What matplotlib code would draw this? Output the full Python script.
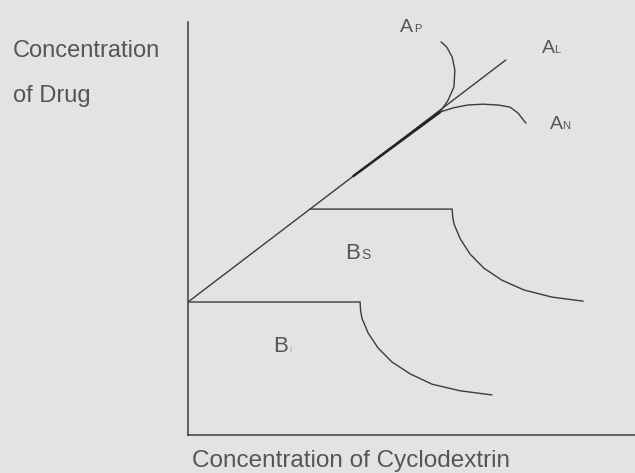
"""Phase-solubility diagram (Higuchi-Connors types A_P, A_L, A_N, B_S, B_I)."""
import matplotlib
matplotlib.use("Agg")
import matplotlib.pyplot as plt

BG = "#e3e3e1"
INK = "#3c3c3c"
TXT = "#555555"

# A_L: straight line from the intrinsic solubility upward
AL_X = [0.0, 7.11]
AL_Y = [3.22, 9.08]
# darker, hand-traced part of the A_L line near the branch point
AL_DARK_X = [3.70, 5.64]
AL_DARK_Y = [6.27, 7.82]

# A_P branch (bends upward)
AP_X = [5.64, 5.82, 5.95, 5.97, 5.91, 5.79, 5.66]
AP_Y = [7.82, 8.11, 8.43, 8.84, 9.15, 9.39, 9.52]

# A_N branch (bends downward)
AN_X = [5.64, 5.93, 6.26, 6.60, 6.94, 7.20, 7.38, 7.56]
AN_Y = [7.82, 7.92, 7.99, 8.01, 7.99, 7.94, 7.80, 7.55]

# B_S: plateau then decline
BS_X = [2.73, 5.91, 5.92, 5.95, 6.09, 6.31, 6.62, 7.02, 7.52, 8.14, 8.84]
BS_Y = [5.47, 5.47, 5.30, 5.11, 4.75, 4.38, 4.04, 3.75, 3.51, 3.34, 3.24]

# B_I: plateau at intrinsic solubility then decline
BI_X = [0.0, 3.85, 3.86, 3.89, 4.03, 4.25, 4.56, 4.97, 5.46, 6.09, 6.80]
BI_Y = [3.22, 3.22, 3.03, 2.83, 2.47, 2.11, 1.77, 1.48, 1.23, 1.07, 0.97]

# curve labels: (main letter, subscript, x, y, x of subscript, main size, sub size)
LABELS = [
    ("A", "P", 4.74, 9.76, 5.06, 14, 8),
    ("A", "L", 7.92, 9.25, 8.20, 14, 8),
    ("A", "N", 8.10, 7.41, 8.36, 14, 8),
    ("B", "S", 3.51, 4.26, 3.87, 16, 10),
    ("B", "I", 1.90, 2.01, 2.26, 16, 6),
]

plt.rcParams["font.family"] = ["Liberation Sans", "DejaVu Sans"]

fig = plt.figure(figsize=(6.35, 4.73), dpi=100, facecolor=BG)
ax = fig.add_axes([188 / 635, 38 / 473, 447 / 635, 413 / 473])
ax.set_facecolor(BG)
ax.set_xlim(0, 10)
ax.set_ylim(0, 10)
ax.set_xticks([]); ax.set_yticks([])
for side in ("top", "right"):
    ax.spines[side].set_visible(False)
for side in ("left", "bottom"):
    ax.spines[side].set_color(INK)
    ax.spines[side].set_linewidth(1.1)

kw = dict(color=INK, lw=1.0, solid_capstyle="round", solid_joinstyle="round")
ax.plot(AL_X, AL_Y, **kw)
ax.plot(AL_DARK_X, AL_DARK_Y, color="#222222", lw=1.8, solid_capstyle="round")
ax.plot(AP_X, AP_Y, **kw)
ax.plot(AN_X, AN_Y, **kw)
ax.plot(BS_X, BS_Y, **kw)
ax.plot(BI_X, BI_Y, **kw)

for main, sub, x, y, xs, fs, fss in LABELS:
    ax.text(x, y, main, fontsize=fs, color=TXT, ha="left", va="baseline")
    sub_col = TXT if sub != "I" else "#a0a0a0"
    ax.text(xs, y, sub, fontsize=fss, color=sub_col, ha="left", va="baseline")

# axis titles
fig.text(13 / 635, 1 - 57 / 473, "Concentration", fontsize=17, color=TXT,
         ha="left", va="baseline")
fig.text(13 / 635, 1 - 102 / 473, "of Drug", fontsize=17, color=TXT,
         ha="left", va="baseline")
fig.text(192 / 635, 1 - 467 / 473, "Concentration of Cyclodextrin", fontsize=17.5,
         color=TXT, ha="left", va="baseline")

fig.savefig("out.png", dpi=100, facecolor=BG)
